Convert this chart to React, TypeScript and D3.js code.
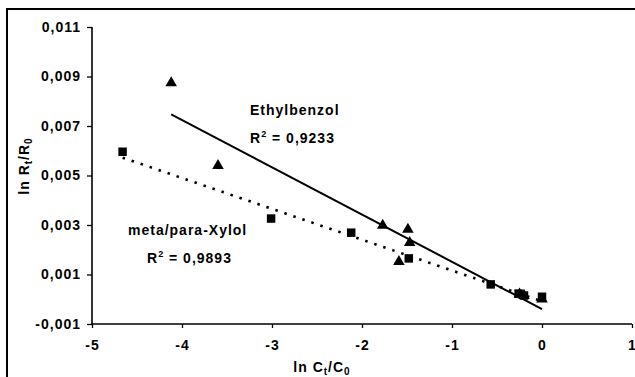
import { useEffect, useRef } from 'react';
import * as d3 from 'd3';

// ln Ct/C0 vs ln Rt/R0
const ethX = [-4.12, -3.6, -1.77, -1.49, -1.47, -1.59, -0.25, -0.2, 0];
const ethY = [0.00874, 0.0054, 0.00298, 0.00282, 0.00229, 0.00152, 0.0002, 0.00015, 0];
const xylX = [-4.66, -3.01, -2.12, -1.48, -0.57, -0.26, -0.2, 0];
const xylY = [0.00596, 0.00326, 0.00269, 0.00165, 0.0006, 0.00023, 0.00015, 0.0001];

const xTicks = [-5, -4, -3, -2, -1, 0, 1];
const yTicks = [-0.001, 0.001, 0.003, 0.005, 0.007, 0.009, 0.011];

const W = 635;
const H = 377;
const FONT = "'Liberation Sans', Arial, sans-serif";

const locale = d3.formatLocale({ decimal: ',', thousands: '.', grouping: [3], currency: ['', ''], minus: '-' });

function fit(xs: number[], ys: number[]) {
  const mx = d3.mean(xs)!;
  const my = d3.mean(ys)!;
  let sxy = 0, sxx = 0;
  xs.forEach((x, i) => {
    sxy += (x - mx) * (ys[i] - my);
    sxx += (x - mx) * (x - mx);
  });
  const m = sxy / sxx;
  const b = my - m * mx;
  const [x0, x1] = d3.extent(xs) as [number, number];
  return [[x0, m * x0 + b], [x1, m * x1 + b]] as [number, number][];
}

const App = () => {
  const svgRef = useRef<SVGSVGElement>(null);

  useEffect(() => {
    const svg = d3.select(svgRef.current);
    svg.selectAll('*').remove();

    const x = d3.scaleLinear().domain([-5, 1]).range([92, 632]);
    const y = d3.scaleLinear().domain([-0.001, 0.011]).range([324, 27]);

    // outer frame (cut by the picture edge)
    svg.append('rect')
      .attr('x', 7).attr('y', 9)
      .attr('width', 700).attr('height', 420)
      .attr('fill', 'none').attr('stroke', '#000').attr('stroke-width', 2);

    const yAxis = svg.append('g')
      .attr('transform', `translate(${x(-5)},0)`)
      .call(d3.axisLeft(y).tickValues(yTicks).tickSize(5).tickPadding(6)
        .tickFormat((d) => locale.format('.3f')(d as number)));

    const xAxis = svg.append('g')
      .attr('transform', `translate(0,${y(-0.001)})`)
      .call(d3.axisBottom(x).tickValues(xTicks).tickSize(4).tickPadding(12)
        .tickFormat((d) => locale.format('d')(d as number)));

    [yAxis, xAxis].forEach((g) => {
      g.select('.domain').attr('stroke-width', 1.6);
      g.selectAll('.tick line').attr('stroke-width', 1.3);
      g.selectAll('text')
        .attr('font-family', FONT)
        .attr('font-size', 14)
        .attr('font-weight', 'bold')
        .attr('letter-spacing', 1)
        .attr('fill', '#000');
    });
    yAxis.select('.domain').attr('d', `M0,${y(0.011)}V${y(-0.001)}`);
    xAxis.select('.domain').attr('d', `M${x(-5)},0H${x(1)}`);

    const line = d3.line<[number, number]>().x((d) => x(d[0])).y((d) => y(d[1]));

    svg.append('path')
      .attr('d', line(fit(xylX, xylY)))
      .attr('fill', 'none').attr('stroke', '#000')
      .attr('stroke-width', 2.6).attr('stroke-dasharray', '2.5,7');

    svg.append('path')
      .attr('d', line(fit(ethX, ethY)))
      .attr('fill', 'none').attr('stroke', '#000').attr('stroke-width', 2);

    const tri = d3.symbol().type(d3.symbolTriangle).size(58);
    const sq = d3.symbol().type(d3.symbolSquare).size(72);

    svg.append('g').selectAll('path')
      .data(xylX.map((v, i) => [v, xylY[i]]))
      .enter().append('path')
      .attr('d', sq())
      .attr('transform', (d) => `translate(${x(d[0])},${y(d[1])})`)
      .attr('fill', '#000');

    svg.append('g').selectAll('path')
      .data(ethX.map((v, i) => [v, ethY[i]]))
      .enter().append('path')
      .attr('d', tri())
      .attr('transform', (d) => `translate(${x(d[0])},${y(d[1])})`)
      .attr('fill', '#000');

    const label = (tx: number, ty: number) =>
      svg.append('text')
        .attr('x', tx).attr('y', ty)
        .attr('font-family', FONT).attr('font-size', 14)
        .attr('font-weight', 'bold').attr('letter-spacing', 1)
        .attr('fill', '#000');

    label(250, 115).text('Ethylbenzol');
    const r1 = label(250, 143);
    r1.append('tspan').text('R');
    r1.append('tspan').attr('dy', -6).attr('font-size', 9).text('2');
    r1.append('tspan').attr('dy', 6).text(' = 0,9233');

    label(128, 235).text('meta/para-Xylol');
    const r2 = label(147, 263);
    r2.append('tspan').text('R');
    r2.append('tspan').attr('dy', -6).attr('font-size', 9).text('2');
    r2.append('tspan').attr('dy', 6).text(' = 0,9893');

    const xl = label(322, 372).attr('text-anchor', 'middle');
    xl.append('tspan').text('ln C');
    xl.append('tspan').attr('dy', 3).attr('font-size', 10).text('t');
    xl.append('tspan').attr('dy', -3).text('/C');
    xl.append('tspan').attr('dy', 3).attr('font-size', 10).text('0');

    const yl = label(0, 0).attr('text-anchor', 'middle')
      .attr('transform', 'translate(29,166) rotate(-90)');
    yl.append('tspan').text('ln R');
    yl.append('tspan').attr('dy', 3).attr('font-size', 10).text('t');
    yl.append('tspan').attr('dy', -3).text('/R');
    yl.append('tspan').attr('dy', 3).attr('font-size', 10).text('0');
  }, [svgRef]);

  return (
    <svg
      ref={svgRef}
      width={W}
      height={H}
      style={{ position: 'absolute', left: 0, top: 0, background: '#fff' }}
    />
  );
};

export default App;
